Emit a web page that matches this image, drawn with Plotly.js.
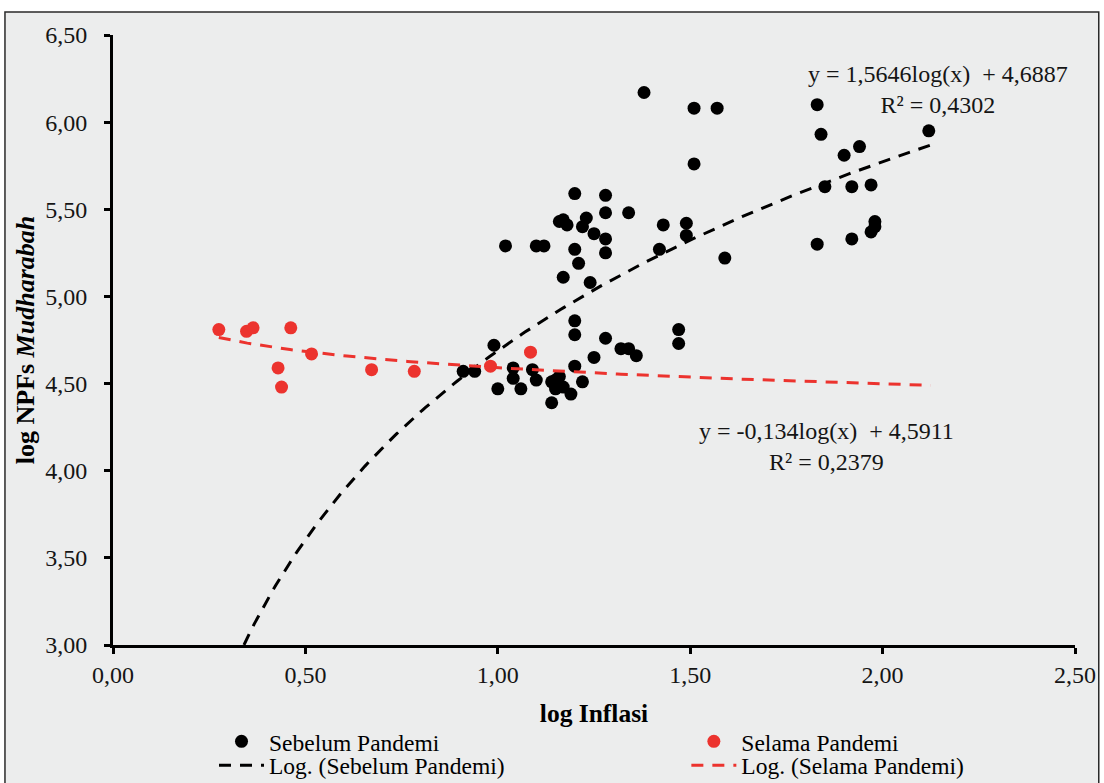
<!DOCTYPE html>
<html>
<head>
<meta charset="utf-8">
<script src="https://cdn.plot.ly/plotly-3.0.1.min.js"></script>
<style>
  html, body { margin: 0; padding: 0; background: #ffffff; }
  #chart { width: 1104px; height: 783px; }
</style>
</head>
<body>
<div id="chart"></div>
<script>
// ---- Data ----
const sebelumX = [1.38, 1.51, 1.57, 1.51, 1.83, 1.84, 2.12, 1.94, 1.90, 1.85, 1.92, 1.97, 1.98, 1.98, 1.97, 1.92, 1.83,
                  1.34, 1.43, 1.49, 1.49, 1.42, 1.59, 1.02, 1.10, 1.12, 1.20, 1.28, 1.28, 1.16, 1.17, 1.18, 1.23, 1.22,
                  1.25, 1.28, 1.20, 1.28, 1.21, 1.17, 1.24, 1.20, 1.20, 1.28, 1.32, 1.34, 1.36, 1.47, 1.47, 0.99,
                  1.25, 1.20, 0.91, 0.94, 1.04, 1.09, 1.04, 1.10, 1.00, 1.06, 1.14, 1.16, 1.15, 1.19, 1.14, 1.22, 1.17, 1.15];
const sebelumY = [6.17, 6.08, 6.08, 5.76, 6.10, 5.93, 5.95, 5.86, 5.81, 5.63, 5.63, 5.64, 5.43, 5.40, 5.37, 5.33, 5.30,
                  5.48, 5.41, 5.42, 5.35, 5.27, 5.22, 5.29, 5.29, 5.29, 5.59, 5.58, 5.48, 5.43, 5.44, 5.41, 5.45, 5.40,
                  5.36, 5.33, 5.27, 5.25, 5.19, 5.11, 5.08, 4.86, 4.78, 4.76, 4.70, 4.70, 4.66, 4.81, 4.73, 4.72,
                  4.65, 4.60, 4.57, 4.57, 4.59, 4.58, 4.53, 4.52, 4.47, 4.47, 4.51, 4.54, 4.47, 4.44, 4.39, 4.51, 4.48, 4.52];

const selamaX = [0.275, 0.347, 0.364, 0.462, 0.429, 0.438, 0.516, 0.672, 0.783, 0.981, 1.085];
const selamaY = [4.81, 4.80, 4.82, 4.82, 4.59, 4.48, 4.67, 4.58, 4.57, 4.60, 4.68];

// Logarithmic trendlines (Excel: y = a*ln(x) + b)
const trendSebelum = [1.5646, 4.6887];
const trendSelama  = [-0.134, 4.5911];
const trendRange   = [0.275, 2.125];

const seriesNames = ['Sebelum Pandemi', 'Selama Pandemi', 'Log. (Sebelum Pandemi)', 'Log. (Selama Pandemi)'];
const eqSebelum = 'y = 1,5646log(x) \u00a0+ 4,6887<br>R² = 0,4302';
const eqSelama  = 'y = -0,134log(x) \u00a0+ 4,5911<br>R² = 0,2379';
const xTicks = [0, 0.5, 1.0, 1.5, 2.0, 2.5];
const yTicks = [3.0, 3.5, 4.0, 4.5, 5.0, 5.5, 6.0, 6.5];

function trendCurve(coef) {
  const xs = [], ys = [];
  const n = 200;
  for (let i = 0; i <= n; i++) {
    const x = trendRange[0] + (trendRange[1] - trendRange[0]) * i / n;
    xs.push(x);
    ys.push(coef[0] * Math.log(x) + coef[1]);
  }
  return { xs, ys };
}
const tSeb = trendCurve(trendSebelum);
const tSel = trendCurve(trendSelama);

const serif = 'Liberation Serif, Times New Roman, serif';
const txt = '#151515';
const red = '#EC332E';

const traces = [
  { type: 'scatter', mode: 'markers', name: seriesNames[0], x: sebelumX, y: sebelumY,
    marker: { color: '#000000', size: 13 }, legend: 'legend' },
  { type: 'scatter', mode: 'markers', name: seriesNames[1], x: selamaX, y: selamaY,
    marker: { color: red, size: 13 }, legend: 'legend2' },
  { type: 'scatter', mode: 'lines', name: seriesNames[2], x: tSeb.xs, y: tSeb.ys,
    line: { color: '#000000', width: 3, dash: '12px,9px' }, legend: 'legend3' },
  { type: 'scatter', mode: 'lines', name: seriesNames[3], x: tSel.xs, y: tSel.ys,
    line: { color: red, width: 3, dash: '12px,9px' }, legend: 'legend4' }
];

function legendAt(x, y) {
  return {
    x: x, y: y, xanchor: 'left', yanchor: 'middle',
    orientation: 'v', bgcolor: 'rgba(0,0,0,0)', borderwidth: 0,
    font: { family: serif, size: 23.5, color: '#000' }, itemwidth: 45
  };
}

const layout = {
  width: 1104, height: 783,
  margin: { l: 113, r: 29, t: 35, b: 138, autoexpand: false },
  paper_bgcolor: '#ffffff',
  plot_bgcolor: 'rgba(0,0,0,0)',
  separators: ',.',
  font: { family: serif, size: 23, color: txt },
  showlegend: true,
  xaxis: {
    range: [0, 2.5], tickvals: xTicks, tickformat: '.2f',
    showgrid: false, zeroline: false,
    showline: true, linecolor: '#000', linewidth: 3,
    ticks: 'outside', ticklen: 6, tickwidth: 3, tickcolor: '#000',
    ticklabelstandoff: 0,
    tickfont: { family: serif, size: 24, color: txt },
    title: { text: '<b>log Inflasi</b>', font: { family: serif, size: 25.5, color: '#000' }, standoff: 18 }
  },
  yaxis: {
    range: [3, 6.5], tickvals: yTicks, tickformat: '.2f',
    showgrid: false, zeroline: false,
    showline: true, linecolor: '#000', linewidth: 3,
    ticks: 'outside', ticklen: 6, tickwidth: 3, tickcolor: '#000',
    ticklabelstandoff: 12,
    tickfont: { family: serif, size: 24, color: txt },
    title: { text: '<b>log NPFs <i>Mudharabah</i></b>', font: { family: serif, size: 26, color: '#000' }, standoff: 4 }
  },
  legend:  legendAt(0.105, -0.1583),
  legend2: legendAt(0.596, -0.1583),
  legend3: legendAt(0.105, -0.1976),
  legend4: legendAt(0.596, -0.1976),
  shapes: [
    { type: 'rect', xref: 'paper', yref: 'paper', layer: 'below',
      x0: -0.1123, x1: 1.0247, y0: -0.30, y1: 1.0377,
      fillcolor: '#ECEDED', line: { color: '#2a2a2a', width: 1.5 } }
  ],
  annotations: [
    { xref: 'x', yref: 'y', x: 2.143, y: 6.185, text: eqSebelum, showarrow: false,
      font: { family: serif, size: 24, color: txt }, align: 'center' },
    { xref: 'x', yref: 'y', x: 1.855, y: 4.138, text: eqSelama, showarrow: false,
      font: { family: serif, size: 24, color: txt }, align: 'center' }
  ]
};

Plotly.newPlot('chart', traces, layout, { displayModeBar: false, staticPlot: true });
</script>
</body>
</html>
